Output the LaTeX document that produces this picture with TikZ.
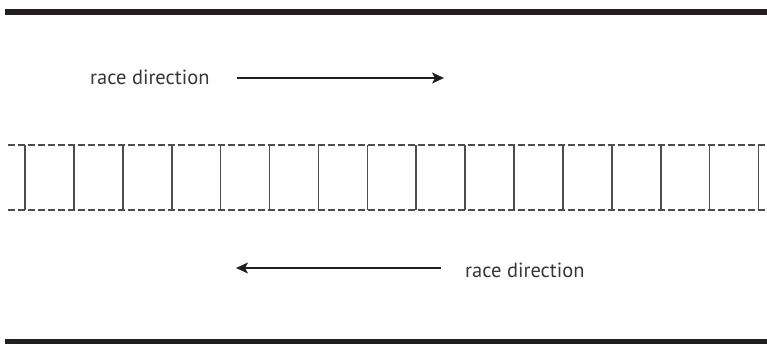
\documentclass[tikz,border=0pt]{standalone}
\usepackage{fontspec}
\setmainfont{PT Sans}
\usetikzlibrary{arrows.meta,positioning}
\definecolor{ink}{HTML}{231F20}
\tikzset{
  label/.style={inner sep=0pt, text=ink!90, font=\fontsize{20.5}{24}\selectfont, anchor=west},
  edgeline/.style={draw=ink, line width=5.5pt},
  laneline/.style={draw=ink!80, line width=1.1pt, dash pattern=on 7pt off 3pt},
  divider/.style={draw=ink!80, line width=1.6pt},
  dirarrow/.style={draw=ink, line width=1.2pt, -{Stealth[length=12pt,width=11pt,inset=3pt]}}
}
\begin{document}
\begin{tikzpicture}[x=1pt, y=-1pt]
                \useasboundingbox (0, 0) rectangle (767, 345);

                % Nodes
                \node[label] at (90, 77) (topText) {race direction};
                \node[label] at (465, 270) (botText) {race direction};

                \coordinate (topStart) at (237, 78);
                \coordinate (topEnd) at (444, 78);
                \coordinate (botStart) at (441, 268);
                \coordinate (botEnd) at (236, 268);

                % road edges
                \draw[edgeline] (5, 12) -- (767, 12);
                \draw[edgeline] (5, 341.5) -- (767, 341.5);

                % lane markings
                \draw[laneline] (8, 145) -- (767, 145);
                \draw[laneline] (8, 210) -- (767, 210);
                \foreach \i in {0,...,15}
                    \draw[divider] (25 + 48.9*\i, 145) -- (25 + 48.9*\i, 210);

                \draw[dirarrow] (topStart) -- (topEnd);
                \draw[dirarrow] (botStart) -- (botEnd);

            \end{tikzpicture}
\end{document}
